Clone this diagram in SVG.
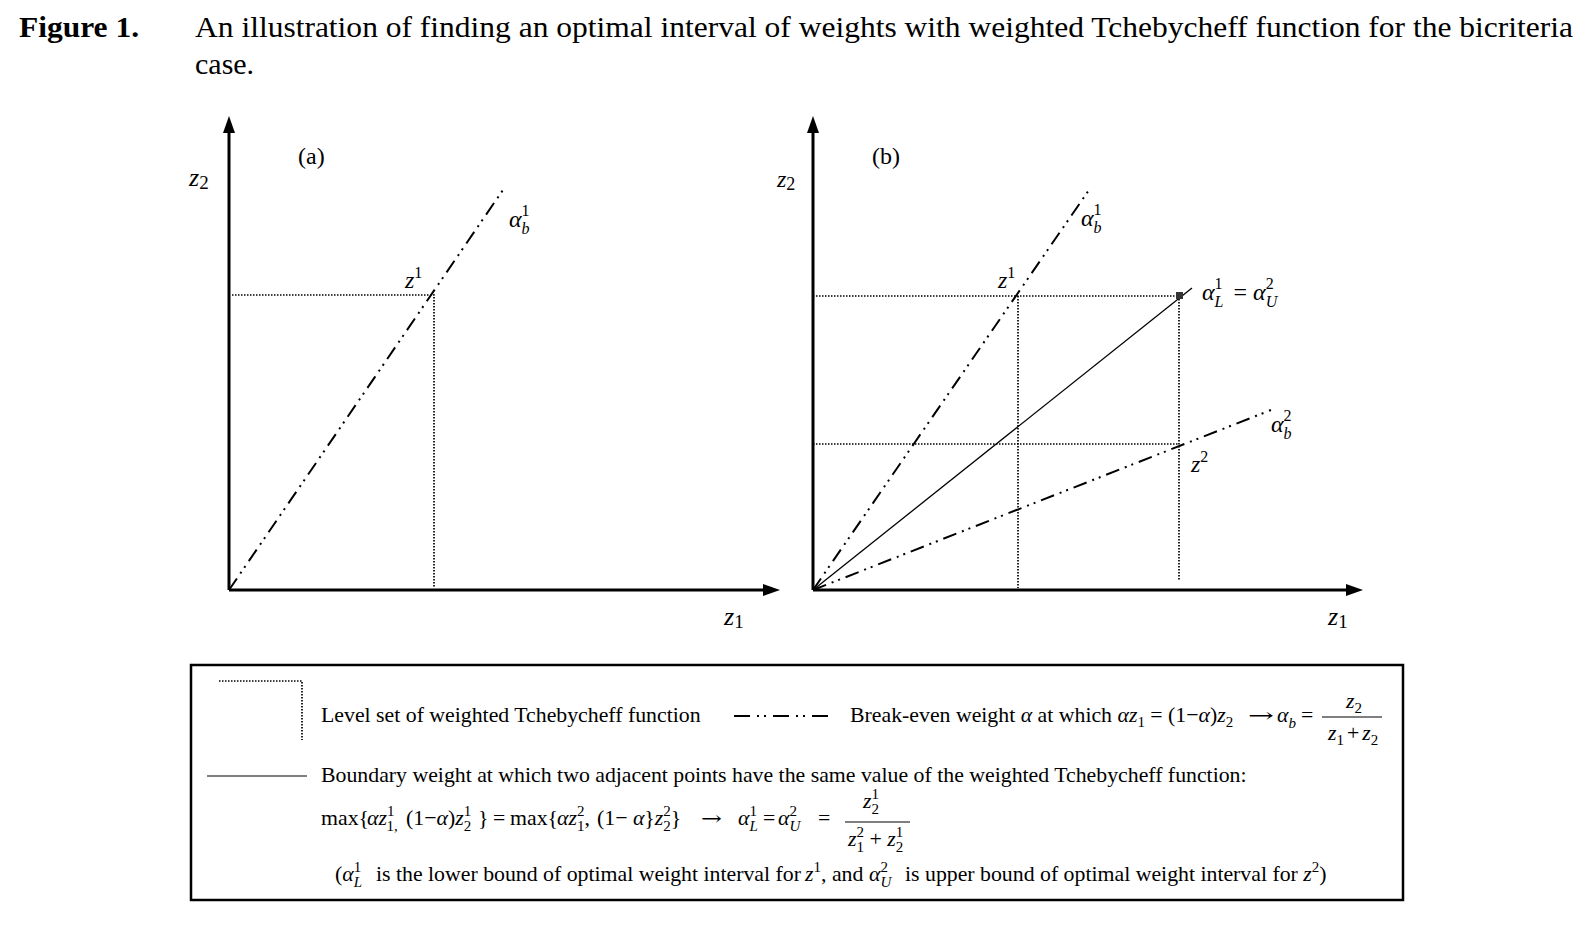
<svg xmlns="http://www.w3.org/2000/svg" width="1591" height="925" viewBox="0 0 1591 925">
<style>
.t{font-family:"Liberation Serif","Times New Roman",serif;fill:#000}
.i{font-style:italic}
.b{font-weight:bold}
.ar{font-family:"DejaVu Serif",serif}
.axis{stroke:#000;stroke-width:3;fill:none}
.dot{stroke:#000;stroke-width:1.7;stroke-dasharray:1.5 1.5;fill:none}
.dd{stroke:#000;stroke-width:2;stroke-dasharray:14 6 2 5 2 6;fill:none}
.solid{stroke:#000;stroke-width:1.3;fill:none}
.lg{font-size:21.8px}
.s{font-size:15px}
</style>
<defs>
<marker id="arr" markerUnits="userSpaceOnUse" markerWidth="18" markerHeight="14" refX="4" refY="6" orient="auto">
<path d="M0,0 L17,6 L0,12 z" fill="#000"/>
</marker>
</defs>
<rect width="1591" height="925" fill="#fff"/>

<g id="title">
<text class="t b" x="19" y="37" font-size="30" textLength="120" lengthAdjust="spacingAndGlyphs">Figure 1.</text>
<text class="t" x="195" y="37" font-size="30" textLength="1378" lengthAdjust="spacingAndGlyphs">An illustration of finding an optimal interval of weights with weighted Tchebycheff function for the bicriteria</text>
<text class="t" x="195" y="74" font-size="30">case.</text>
</g>

<g id="panel-a">
<g id="axes-a">
<line class="axis" x1="229" y1="590" x2="229" y2="129" marker-end="url(#arr)"/>
<line class="axis" x1="229" y1="590" x2="767" y2="590" marker-end="url(#arr)"/>
</g>
<g id="connectors-a">
<polyline class="dot" points="232,295 434,295 434,588"/>
<line class="dd" x1="229" y1="590" x2="505" y2="187"/>
</g>
<g id="labels-a">
<text class="t" x="298" y="164" font-size="24">(a)</text>
<text class="t" x="189" y="186" font-size="26"><tspan class="i">z</tspan><tspan font-size="19" baseline-shift="-3">2</tspan></text>
<text class="t" x="405" y="288" font-size="24"><tspan class="i">z</tspan><tspan font-size="16" baseline-shift="10">1</tspan></text>
<text class="t" x="509" y="227" font-size="24"><tspan class="i">α</tspan><tspan font-size="16" baseline-shift="11">1</tspan><tspan class="i" font-size="16" dx="-8" baseline-shift="-7">b</tspan></text>
<text class="t" x="724" y="625" font-size="26"><tspan class="i">z</tspan><tspan font-size="19" baseline-shift="-3">1</tspan></text>
</g>
</g>

<g id="panel-b">
<g id="axes-b">
<line class="axis" x1="813" y1="590" x2="813" y2="129" marker-end="url(#arr)"/>
<line class="axis" x1="813" y1="590" x2="1350" y2="590" marker-end="url(#arr)"/>
</g>
<g id="connectors-b">
<polyline class="dot" points="813,296 1180,296"/>
<polyline class="dot" points="813,444 1179,444"/>
<line class="dot" x1="1018" y1="296" x2="1018" y2="588"/>
<line class="dot" x1="1179" y1="296" x2="1179" y2="580"/>
<line class="dd" x1="813" y1="590" x2="1089" y2="190"/>
<line class="dd" x1="813" y1="590" x2="1271" y2="410"/>
<line class="solid" x1="813" y1="590" x2="1192" y2="288"/>
<rect x="1176" y="292" width="7" height="7" fill="#333"/>
</g>
<g id="labels-b">
<text class="t" x="872" y="164" font-size="24">(b)</text>
<text class="t" x="777" y="187" font-size="24"><tspan class="i">z</tspan><tspan font-size="18" baseline-shift="-3">2</tspan></text>
<text class="t" x="998" y="288" font-size="24"><tspan class="i">z</tspan><tspan font-size="16" baseline-shift="10">1</tspan></text>
<text class="t" x="1081" y="226" font-size="24"><tspan class="i">α</tspan><tspan font-size="16" baseline-shift="11">1</tspan><tspan class="i" font-size="16" dx="-8" baseline-shift="-7">b</tspan></text>
<text class="t" x="1202" y="300" font-size="24"><tspan class="i">α</tspan><tspan font-size="16" baseline-shift="11">1</tspan><tspan class="i" font-size="16" dx="-8" baseline-shift="-7">L</tspan><tspan dx="10">=</tspan><tspan class="i" dx="6">α</tspan><tspan font-size="16" baseline-shift="11">2</tspan><tspan class="i" font-size="16" dx="-8" baseline-shift="-7">U</tspan></text>
<text class="t" x="1271" y="432" font-size="24"><tspan class="i">α</tspan><tspan font-size="16" baseline-shift="11">2</tspan><tspan class="i" font-size="16" dx="-8" baseline-shift="-7">b</tspan></text>
<text class="t" x="1191" y="472" font-size="24"><tspan class="i">z</tspan><tspan font-size="16" baseline-shift="10">2</tspan></text>
<text class="t" x="1328" y="625" font-size="26"><tspan class="i">z</tspan><tspan font-size="19" baseline-shift="-3">1</tspan></text>
</g>
</g>

<g id="legend">
<rect x="191" y="665" width="1212" height="235" fill="none" stroke="#000" stroke-width="2.5"/>
<g id="legend-level">
<polyline class="dot" points="219,681 302,681 302,740"/>
<text class="t lg" x="321" y="722">Level set of weighted Tchebycheff function</text>
</g>
<g id="legend-breakeven">
<line class="dd" x1="734" y1="716" x2="832" y2="716" style="stroke-dasharray:16 7 2 5 2 7"/>
<text class="t lg" x="850" y="722">Break-even weight <tspan class="i">α</tspan> at which <tspan class="i">αz</tspan><tspan class="s" baseline-shift="-5">1</tspan> = (1−<tspan class="i">α</tspan>)<tspan class="i">z</tspan><tspan class="s" baseline-shift="-5">2</tspan></text>
<text class="t ar" x="1248" y="722" font-size="20" textLength="26" lengthAdjust="spacingAndGlyphs">→</text>
<text class="t lg" x="1277" y="722"><tspan class="i">α</tspan><tspan class="s i" baseline-shift="-6">b</tspan></text>
<text class="t lg" x="1301" y="722">=</text>
<text class="t lg" x="1346" y="708"><tspan class="i">z</tspan><tspan class="s" baseline-shift="-5">2</tspan></text>
<line x1="1322" y1="717" x2="1382" y2="717" stroke="#000" stroke-width="1.2"/>
<text class="t lg" x="1328" y="740"><tspan class="i">z</tspan><tspan class="s" baseline-shift="-5">1</tspan><tspan dx="3">+</tspan><tspan class="i" dx="3">z</tspan><tspan class="s" baseline-shift="-5">2</tspan></text>
</g>
<g id="legend-boundary">
<line x1="207" y1="776" x2="307" y2="776" stroke="#555" stroke-width="1.6"/>
<text class="t lg" x="321" y="782">Boundary weight at which two adjacent points have the same value of the weighted Tchebycheff function:</text>
<text class="t lg" x="321" y="825">max{</text>
<text class="t lg" x="367" y="825"><tspan class="i">αz</tspan><tspan class="s" baseline-shift="9">1</tspan><tspan class="s" dx="-7.5" baseline-shift="-6">1,</tspan></text>
<text class="t lg" x="406" y="825">(1−<tspan class="i">α</tspan>)<tspan class="i">z</tspan><tspan class="s" baseline-shift="9">1</tspan><tspan class="s" dx="-7.5" baseline-shift="-6">2</tspan></text>
<text class="t lg" x="478" y="825">}</text>
<text class="t lg" x="493" y="825">=</text>
<text class="t lg" x="510" y="825">max{</text>
<text class="t lg" x="557" y="825"><tspan class="i">αz</tspan><tspan class="s" baseline-shift="9">2</tspan><tspan class="s" dx="-7.5" baseline-shift="-6">1</tspan>,</text>
<text class="t lg" x="597" y="825">(1− <tspan class="i">α</tspan>}<tspan class="i">z</tspan><tspan class="s" baseline-shift="9">2</tspan><tspan class="s" dx="-7.5" baseline-shift="-6">2</tspan>}</text>
<text class="t ar" x="701" y="825" font-size="20" textLength="21" lengthAdjust="spacingAndGlyphs">→</text>
<text class="t lg" x="738" y="825"><tspan class="i">α</tspan><tspan class="s" baseline-shift="9">1</tspan><tspan class="s i" dx="-7.5" baseline-shift="-6">L</tspan></text>
<text class="t lg" x="763" y="825">=</text>
<text class="t lg" x="778" y="825"><tspan class="i">α</tspan><tspan class="s" baseline-shift="9">2</tspan><tspan class="s i" dx="-7.5" baseline-shift="-6">U</tspan></text>
<text class="t lg" x="818" y="825">=</text>
<text class="t lg" x="863" y="808"><tspan class="i">z</tspan><tspan class="s" baseline-shift="9">1</tspan><tspan class="s" dx="-7.5" baseline-shift="-6">2</tspan></text>
<line x1="845" y1="822" x2="910" y2="822" stroke="#000" stroke-width="1.2"/>
<text class="t lg" x="848" y="846"><tspan class="i">z</tspan><tspan class="s" baseline-shift="9">2</tspan><tspan class="s" dx="-7.5" baseline-shift="-6">1</tspan> + <tspan class="i">z</tspan><tspan class="s" baseline-shift="9">1</tspan><tspan class="s" dx="-7.5" baseline-shift="-6">2</tspan></text>
<text class="t lg" x="335" y="881">(<tspan class="i">α</tspan><tspan class="s" baseline-shift="9">1</tspan><tspan class="s i" dx="-7.5" baseline-shift="-6">L</tspan></text>
<text class="t lg" x="376" y="881">is the lower bound of optimal weight interval for</text>
<text class="t lg" x="805" y="881"><tspan class="i">z</tspan><tspan class="s" baseline-shift="9">1</tspan>, and</text>
<text class="t lg" x="869" y="881"><tspan class="i">α</tspan><tspan class="s" baseline-shift="9">2</tspan><tspan class="s i" dx="-7.5" baseline-shift="-6">U</tspan></text>
<text class="t lg" x="905" y="881">is upper bound of optimal weight interval for <tspan class="i">z</tspan><tspan class="s" baseline-shift="9">2</tspan>)</text>
</g>
</g>
</svg>
